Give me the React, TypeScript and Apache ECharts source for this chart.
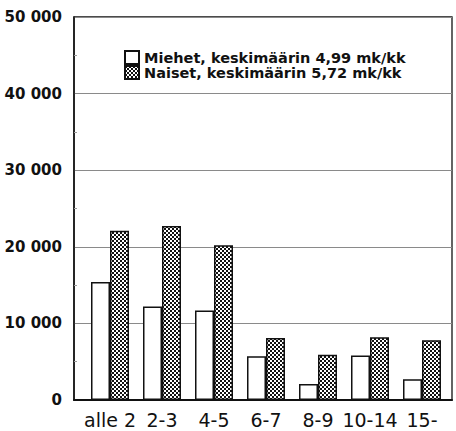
import React, { useEffect, useRef } from "react";
import * as echarts from "echarts";

const categories = ["alle 2", "2-3", "4-5", "6-7", "8-9", "10-14", "15-"];
const miehet = [15400, 12200, 11700, 5700, 2100, 5800, 2700];
const naiset = [22100, 22700, 20200, 8100, 5900, 8200, 7800];
const seriesNames = [
  "Miehet, keskimäärin 4,99 mk/kk",
  "Naiset, keskimäärin 5,72 mk/kk",
];
const yTicks = [0, 10000, 20000, 30000, 40000, 50000];

function makePattern() {
  const c = document.createElement("canvas");
  c.width = 4;
  c.height = 4;
  const ctx = c.getContext("2d");
  if (ctx) {
    ctx.fillStyle = "#ffffff";
    ctx.fillRect(0, 0, 4, 4);
    ctx.fillStyle = "#111111";
    ctx.fillRect(0, 0, 2, 2);
    ctx.fillRect(2, 2, 2, 2);
  }
  return c;
}

export default function App() {
  const ref = useRef<HTMLDivElement>(null);
  useEffect(() => {
    if (!ref.current) return;
    const chart = echarts.init(ref.current, null, { renderer: "svg" });
    const pattern = makePattern();
    const fmt = (v: number) =>
      v === 0 ? "0" : String(Math.round(v / 1000)) + " 000";
    chart.setOption({
      animation: false,
      backgroundColor: "#ffffff",
      legend: {
        orient: "vertical",
        left: 119,
        top: 45,
        itemWidth: 14,
        itemHeight: 13,
        itemGap: 0,
        icon: "rect",
        data: seriesNames,
        textStyle: {
          fontFamily: "DejaVu Sans",
          fontWeight: "bold",
          fontSize: 14.5,
          lineHeight: 15,
          color: "#111",
        },
      },
      grid: [
        { left: 84, right: 8, top: 17, bottom: 31 },
        {
          left: 74,
          right: 4,
          top: 17,
          bottom: 31,
          show: true,
          borderColor: "#111",
          borderWidth: 1.3,
          backgroundColor: "transparent",
        },
      ],
      xAxis: [
        {
          type: "category",
          gridIndex: 0,
          data: categories,
          axisLine: { show: false },
          axisTick: { show: false },
          axisLabel: {
            margin: 10,
            fontFamily: "DejaVu Sans",
            fontSize: 19,
            color: "#111",
            interval: 0,
          },
        },
        {
          type: "value",
          gridIndex: 1,
          min: 0,
          max: 1,
          axisLine: { show: true, lineStyle: { color: "#111", width: 2 } },
          axisTick: { show: false },
          axisLabel: { show: false },
          splitLine: { show: false },
        },
      ],
      yAxis: [
        {
          type: "value",
          gridIndex: 0,
          min: 0,
          max: 50000,
          interval: 10000,
          show: false,
          splitLine: { show: false },
        },
        {
          type: "value",
          gridIndex: 1,
          min: yTicks[0],
          max: yTicks[yTicks.length - 1],
          interval: 10000,
          axisLine: { show: true, lineStyle: { color: "#111", width: 1.5 } },
          axisTick: { show: false, inside: true },
          minorTick: {
            show: true,
            splitNumber: 2,
            length: 3,
            lineStyle: { color: "#999", width: 1 },
          },
          axisLabel: {
            margin: 12,
            fontFamily: "DejaVu Sans",
            fontWeight: "bold",
            fontSize: 15,
            color: "#111",
            formatter: fmt,
          },
          splitLine: { show: true, lineStyle: { color: "#8a8a8a", width: 1 } },
        },
      ],
      series: [
        {
          name: seriesNames[0],
          type: "bar",
          xAxisIndex: 0,
          yAxisIndex: 0,
          data: miehet,
          barWidth: 19,
          barGap: "0%",
          itemStyle: { color: "#ffffff", borderColor: "#111", borderWidth: 1.5 },
        },
        {
          name: seriesNames[1],
          type: "bar",
          xAxisIndex: 0,
          yAxisIndex: 0,
          data: naiset,
          barWidth: 19,
          barGap: "0%",
          itemStyle: {
            color: { image: pattern, repeat: "repeat" },
            borderColor: "#111",
            borderWidth: 1.5,
          },
        },
      ],
    });
    return () => chart.dispose();
  }, []);
  return (
    <div
      ref={ref}
      style={{ position: "fixed", left: 0, top: 0, width: 456, height: 431 }}
    />
  );
}
